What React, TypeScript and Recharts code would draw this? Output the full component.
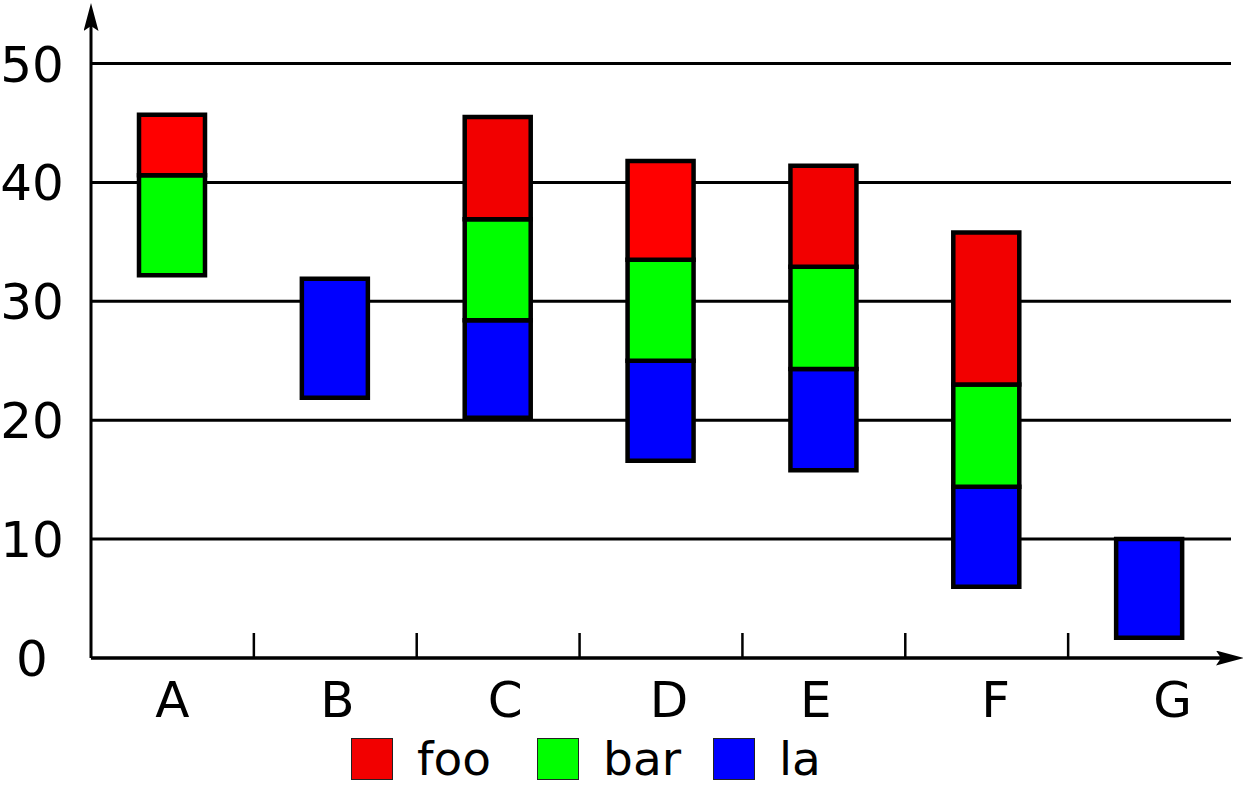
import React from 'react';
import { BarChart, Bar, XAxis, YAxis, CartesianGrid, Legend, Cell } from 'recharts';

// ---- data ----
const categories = ['A', 'B', 'C', 'D', 'E', 'F', 'G'];
const laLow = [null, 21.9, 20.2, 16.6, 15.8, 6.0, 1.7];
const laHigh = [null, 31.9, 28.4, 25.0, 24.3, 14.4, 10.0];
const barLow = [32.2, null, 28.4, 25.0, 24.3, 14.4, null];
const barHigh = [40.6, null, 36.9, 33.5, 32.9, 23.0, null];
const fooLow = [40.6, null, 36.9, 33.5, 32.9, 23.0, null];
const fooHigh = [45.7, null, 45.5, 41.8, 41.4, 35.8, null];
const yTicks = [0, 10, 20, 30, 40, 50];
const seriesNames = ['foo', 'bar', 'la'];

// ---- styles ----
const COLORS: Record<string, string> = { foo: '#ff0000', bar: '#00ff00', la: '#0000ff' };
const fooShades = ['#ff0000', '#ff0000', '#f20000', '#ff0000', '#f20000', '#f20000', '#ff0000'];
const labelShift = [0, 2, 7, 8, -8, 9, 23];
const legendGaps = [46, 32, 0];

const span = (lo: number | null, hi: number | null) => (lo == null || hi == null ? 0 : hi - lo);

const data = categories.map((cat, i) => {
  const lows = [laLow[i], barLow[i], fooLow[i]].filter((v) => v != null) as number[];
  return {
    cat,
    base: Math.min(...lows),
    la: span(laLow[i], laHigh[i]),
    bar: span(barLow[i], barHigh[i]),
    foo: span(fooLow[i], fooHigh[i]),
  };
});

const FONT = '"DejaVu Sans", Verdana, sans-serif';

const XTick = (props: any) => {
  const { x, y, payload, index } = props;
  const half = payload && payload.offset != null ? payload.offset : 0;
  return (
    <g>
      <text
        x={x + (labelShift[index] || 0)}
        y={y + 59}
        textAnchor="middle"
        fontSize={50}
        fontFamily={FONT}
        fill="#000"
      >
        {payload.value}
      </text>
      {index < categories.length - 1 && (
        <line x1={x + half} x2={x + half} y1={y} y2={y - 25} stroke="#000" strokeWidth={2.5} />
      )}
    </g>
  );
};

const YTick = (props: any) => {
  const { y, payload } = props;
  return (
    <text x={32} y={y} dy={18} textAnchor="middle" fontSize={50} fontFamily={FONT} fill="#000">
      {payload.value}
    </text>
  );
};

const LegendContent = (props: any) => {
  const payload = (props.payload || []).filter((p: any) => seriesNames.includes(p.dataKey));
  payload.sort((a: any, b: any) => seriesNames.indexOf(a.dataKey) - seriesNames.indexOf(b.dataKey));
  return (
    <div style={{ display: 'flex', alignItems: 'center', fontFamily: FONT, height: 47 }}>
      {payload.map((p: any, i: number) => (
        <div key={p.dataKey} style={{ display: 'flex', alignItems: 'center', marginRight: legendGaps[i] }}>
          <div
            style={{
              width: 42,
              height: 42,
              boxSizing: 'border-box',
              border: '1.5px solid #222',
              background: p.dataKey === 'foo' ? '#f20000' : COLORS[p.dataKey],
            }}
          />
          <span style={{ marginLeft: 24, fontSize: 47, lineHeight: '47px', color: '#000', whiteSpace: 'nowrap' }}>
            {p.value}
          </span>
        </div>
      ))}
    </div>
  );
};

export default function App() {
  return (
    <div style={{ position: 'absolute', left: 0, top: 0, width: 1243, height: 786, background: '#fff' }}>
      <svg width={0} height={0} style={{ position: 'absolute' }}>
        <defs>
          <marker
            id="arrowHead"
            markerUnits="userSpaceOnUse"
            markerWidth={28}
            markerHeight={15}
            viewBox="0 0 28 15"
            refX={15}
            refY={7.5}
            orient="auto-start-reverse"
          >
            <path d="M0,0 L28,7.5 L0,15 L5,7.5 Z" fill="#000" />
          </marker>
        </defs>
      </svg>
      <BarChart
        width={1243}
        height={786}
        data={data}
        margin={{ top: 16, right: 12, left: 0, bottom: 58 }}
        barSize={66}
      >
        <CartesianGrid horizontal vertical={false} stroke="#000" strokeWidth={3} syncWithTicks />
        <XAxis
          dataKey="cat"
          height={70}
          interval={0}
          tickLine={false}
          tickSize={0}
          tickMargin={0}
          tick={<XTick />}
          axisLine={{ stroke: '#000', strokeWidth: 3, markerEnd: 'url(#arrowHead)' }}
        />
        <YAxis
          width={91}
          domain={[0, 54]}
          ticks={yTicks}
          allowDataOverflow
          tickLine={false}
          tickSize={0}
          tick={<YTick />}
          axisLine={{ stroke: '#000', strokeWidth: 3, markerStart: 'url(#arrowHead)' }}
        />
        <Legend
          verticalAlign="middle"
          align="center"
          layout="horizontal"
          content={<LegendContent />}
          wrapperStyle={{ top: 735, left: 351, width: 700, height: 47 }}
        />
        <Bar dataKey="base" stackId="s" fill="transparent" stroke="none" legendType="none" isAnimationActive={false} />
        <Bar dataKey="la" name="la" stackId="s" fill={COLORS.la} stroke="#000" strokeWidth={4.5} isAnimationActive={false} />
        <Bar dataKey="bar" name="bar" stackId="s" fill={COLORS.bar} stroke="#000" strokeWidth={4.5} isAnimationActive={false} />
        <Bar dataKey="foo" name="foo" stackId="s" fill={COLORS.foo} stroke="#000" strokeWidth={4.5} isAnimationActive={false}>
          {data.map((d, i) => (
            <Cell key={d.cat} fill={fooShades[i]} />
          ))}
        </Bar>
      </BarChart>
    </div>
  );
}
